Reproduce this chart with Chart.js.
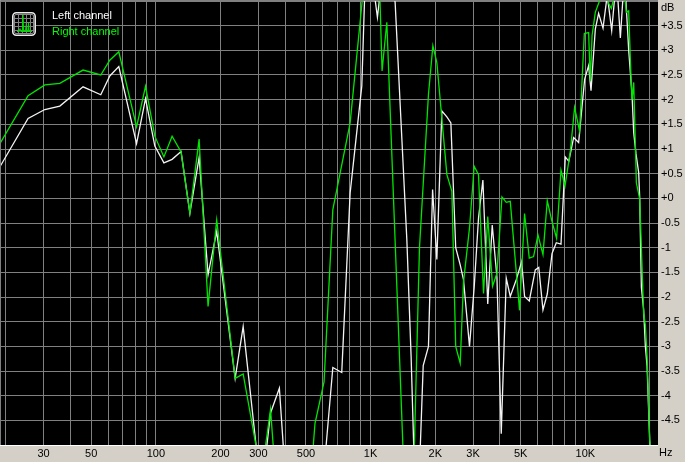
<!DOCTYPE html>
<html><head><meta charset="utf-8">
<script src="https://cdn.jsdelivr.net/npm/chart.js@4/dist/chart.umd.min.js"></script>
<style>
html,body{margin:0;padding:0;background:#d4d0c8;}
canvas{display:block;}
</style></head><body>
<canvas id="c" width="685" height="462"></canvas>
<script>
// ---- data ----
const xGridValues = [20,30,40,50,60,70,80,90,100,200,300,400,500,600,700,800,900,1000,2000,3000,4000,5000,6000,7000,8000,9000,10000,20000];
const xTickValues = [30,50,100,200,300,500,1000,2000,3000,5000,10000];
const xTickLabels = ['30','50','100','200','300','500','1K','2K','3K','5K','10K'];
const yTickValues = [3.5,3,2.5,2,1.5,1,0.5,0,-0.5,-1,-1.5,-2,-2.5,-3,-3.5,-4,-4.5];
const yTickLabels = ['+3.5','+3','+2.5','+2','+1.5','+1','+0.5','+0','-0.5','-1','-1.5','-2','-2.5','-3','-3.5','-4','-4.5'];
const yUnit = 'dB';
const xUnit = 'Hz';

const leftLabel = 'Left channel';
const leftFreq = [18.9,25.4,30.4,35.7,45.8,55.4,61.0,67.2,81.3,89.5,98.9,109,119,131,144,159,175,192,234,255,310,342,376,412,454,500,551,607,667,734,803,910,943,1016,1076,1131,1190,1246,1301,1475,1544,1612,1689,1758,1860,1944,2035,2147,2266,2365,2491,2614,2708,2888,3037,3181,3334,3512,3685,3876,4059,4283,4471,4768,5053,5212,5482,5847,6070,6350,6650,6995,7324,7703,8068,8377,8821,9307,9925,10360,10630,11130,11530,12090,12630,12840,13270,13650,14100,14560,14990,15370,15920,16510,16800,17220,17720,17910,18240,18690,19040,19390,19940,20530];
const leftDb = [0.66,1.62,1.80,1.87,2.26,2.10,2.48,2.67,1.11,2.02,1.06,0.72,0.79,0.95,-0.30,0.83,-1.55,-0.67,-3.65,-2.60,-6.0,-4.35,-3.85,-6.4,-7.5,-7.5,-7.0,-5.5,-3.43,-3.53,0.11,2.28,4.4,4.5,3.67,4.5,4.7,4.5,3.97,-0.84,-3.2,-6.0,-5.5,-3.39,-3.0,0.18,-1.24,1.77,1.65,1.53,-1.0,-1.35,-1.65,-3.0,-1.8,-0.4,0.37,-2.14,-0.54,-1.6,-4.77,-1.62,-1.99,-1.65,-1.28,-1.99,-2.08,-1.45,-1.4,-2.26,-1.94,-1.12,-0.9,-0.93,0.84,0.75,1.23,1.13,2.41,2.69,2.18,3.43,3.75,3.45,4.1,3.9,3.40,4.0,4.2,3.25,4.1,4.2,3.0,2.08,1.33,0.9,0.52,0.03,-1.8,-2.26,-3.0,-3.41,-4.9,-5.8];

const rightLabel = 'Right channel';
const rightFreq = [18.9,25.4,30.4,35.7,45.8,55.4,61.0,67.2,81.3,89.5,98.9,109,119,131,144,159,175,192,234,255,310,342,376,412,454,500,551,607,667,803,943,1016,1084,1131,1190,1448,1544,1689,1860,1950,2035,2266,2391,2491,2614,2708,2888,3037,3181,3357,3512,3697,3876,4090,4283,4471,4940,5212,5482,5741,6018,6350,6650,6979,7348,7703,8042,8512,8914,9406,9893,10360,10550,10750,11130,11750,12260,12840,13220,13800,14560,15200,15530,15920,16330,16510,16800,17290,17910,18690,19040,19390,19940,20530];
const rightDb = [1.13,2.08,2.30,2.33,2.60,2.50,2.80,2.97,1.45,2.27,1.26,0.84,1.26,0.94,-0.30,1.20,-2.19,-0.44,-3.65,-3.56,-5.62,-4.28,-6.7,-7.5,-7.5,-6.9,-4.56,-3.72,-0.23,1.53,4.6,5.2,5.3,2.58,3.57,-6.2,-7.6,-1.0,2.11,3.09,2.75,0.48,0.14,-3.0,-3.34,-1.7,-0.6,0.65,0.48,-1.93,-0.37,-1.78,-1.52,0.03,-0.08,-0.06,-2.27,-0.31,-1.21,-1.18,-0.74,-1.14,-0.05,-0.45,-0.81,0.57,0.25,0.95,1.84,1.36,3.34,3.36,2.38,3.30,3.77,4.05,4.3,3.95,3.85,4.2,4.3,4.2,3.77,3.80,2.41,2.0,2.35,0.31,-0.01,-2.33,-2.57,-3.2,-4.9,-5.8];

// ---- styling ----
const PANEL = '#d4d0c8';
const GRID = '#808080';
const FONT = '"Liberation Sans", Arial, sans-serif';

const framePlugin = {
  id: 'frame',
  beforeDraw(chart) {
    const {ctx, chartArea: a} = chart;
    ctx.save();
    ctx.fillStyle = PANEL;
    ctx.fillRect(0, 0, chart.width, chart.height);
    ctx.fillStyle = '#000';
    ctx.fillRect(a.left, a.top, a.right - a.left, a.bottom - a.top);
    ctx.restore();
  },
  afterDraw(chart) {
    const {ctx, chartArea: a} = chart;
    ctx.save();
    ctx.lineWidth = 1;
    // sunken border
    ctx.strokeStyle = GRID;
    ctx.beginPath();
    ctx.moveTo(0.5, a.bottom); ctx.lineTo(0.5, 0.5); ctx.lineTo(a.right, 0.5);
    ctx.stroke();
    ctx.strokeStyle = '#ffffff';
    ctx.beginPath();
    ctx.moveTo(0, a.bottom + 0.5); ctx.lineTo(a.right, a.bottom + 0.5);
    ctx.stroke();
    // unit labels
    ctx.fillStyle = '#000';
    ctx.font = '11px ' + FONT;
    ctx.textAlign = 'left';
    ctx.textBaseline = 'middle';
    ctx.fillText(yUnit, a.right + 3, 8);
    ctx.fillText(xUnit, a.right + 1, 453);
    // legend icon
    const ix = 12, iy = 12, s = 24;
    ctx.fillStyle = '#000';
    ctx.beginPath(); ctx.roundRect(ix + 0.5, iy + 0.5, s - 1, s - 1, 3.5); ctx.fill();
    ctx.strokeStyle = GRID;
    ctx.beginPath();
    for (let k = 0; k < 4; k++) {
      const p = 6 + k * 4 + 0.5;
      ctx.moveTo(ix + p, iy + 3); ctx.lineTo(ix + p, iy + s - 3);
      ctx.moveTo(ix + 3, iy + p); ctx.lineTo(ix + s - 3, iy + p);
    }
    ctx.stroke();
    ctx.strokeStyle = '#00d800';
    ctx.lineWidth = 1.2;
    ctx.beginPath();
    ctx.moveTo(ix + 5, iy + 19.5); ctx.lineTo(ix + 7, iy + 19.5); ctx.lineTo(ix + 8, iy + 17);
    ctx.lineTo(ix + 9, iy + 19.5); ctx.lineTo(ix + 10.5, iy + 19.5);
    ctx.lineTo(ix + 11, iy + 2.5); ctx.lineTo(ix + 11.5, iy + 19.5); ctx.lineTo(ix + 13.5, iy + 19.5);
    ctx.lineTo(ix + 14, iy + 15); ctx.lineTo(ix + 14.5, iy + 19.5); ctx.lineTo(ix + 16, iy + 19.5);
    ctx.lineTo(ix + 16.5, iy + 11); ctx.lineTo(ix + 17, iy + 19.5); ctx.lineTo(ix + 20, iy + 19.5);
    ctx.stroke();
    ctx.strokeStyle = '#e8e8e8';
    ctx.lineWidth = 1.6;
    ctx.beginPath(); ctx.roundRect(ix + 0.8, iy + 0.8, s - 1.6, s - 1.6, 3.5); ctx.stroke();
    ctx.strokeStyle = '#8a8a8a';
    ctx.lineWidth = 1;
    ctx.beginPath(); ctx.roundRect(ix + 2.5, iy + 2.5, s - 5, s - 5, 1.5); ctx.stroke();
    // legend text
    ctx.font = '11px ' + FONT;
    ctx.textBaseline = 'middle';
    chart.data.datasets.slice().reverse().forEach((ds, i) => {
      ctx.fillStyle = ds.legendColor;
      ctx.fillText(ds.label, 52, 15.5 + i * 16);
    });
    ctx.restore();
  }
};

const toPoints = (fs, vs) => fs.map((f, i) => ({x: f, y: vs[i]}));

new Chart(document.getElementById('c'), {
  type: 'line',
  data: {
    datasets: [
      {label: rightLabel, data: toPoints(rightFreq, rightDb), borderColor: '#00e600', legendColor: '#00ff00',
       borderWidth: 1.3, pointRadius: 0, tension: 0, order: 0},
      {label: leftLabel, data: toPoints(leftFreq, leftDb), borderColor: '#f4f4f4', legendColor: '#ffffff',
       borderWidth: 1.3, pointRadius: 0, tension: 0, order: 1}
    ]
  },
  options: {
    responsive: false,
    animation: false,
    devicePixelRatio: 1,
    layout: {padding: {left: 1, top: 1, right: 0, bottom: 0}},
    plugins: {legend: {display: false}, tooltip: {enabled: false}},
    scales: {
      x: {
        type: 'logarithmic', position: 'bottom', min: 19.0, max: 21800,
        afterBuildTicks(scale) { scale.ticks = xGridValues.map(v => ({value: v})); },
        afterFit(scale) { scale.height = 17; scale.paddingLeft = 0; scale.paddingRight = 0; scale.paddingTop = 0; scale.paddingBottom = 0; },
        grid: {color: GRID, lineWidth: 1, drawTicks: false},
        border: {display: false},
        ticks: {
          autoSkip: false, maxRotation: 0, minRotation: 0, padding: 2, color: '#000',
          font: {family: FONT, size: 11},
          callback(v) { const i = xTickValues.indexOf(Number(v)); return i >= 0 ? xTickLabels[i] : ''; }
        }
      },
      y: {
        type: 'linear', position: 'right', min: -5, max: 4,
        afterBuildTicks(scale) { const t = []; for (let v = -5; v <= 4.001; v += 0.5) t.push({value: Math.round(v * 10) / 10}); scale.ticks = t; },
        afterFit(scale) { scale.width = 27; scale.paddingLeft = 0; scale.paddingRight = 0; scale.paddingTop = 0; scale.paddingBottom = 0; },
        grid: {color: GRID, lineWidth: 1, drawTicks: false},
        border: {display: false},
        ticks: {
          padding: 3, color: '#000', font: {family: FONT, size: 11},
          callback(v) { const i = yTickValues.indexOf(Number(v)); return i >= 0 ? yTickLabels[i] : ''; }
        }
      }
    }
  },
  plugins: [framePlugin]
});
</script>
</body></html>
